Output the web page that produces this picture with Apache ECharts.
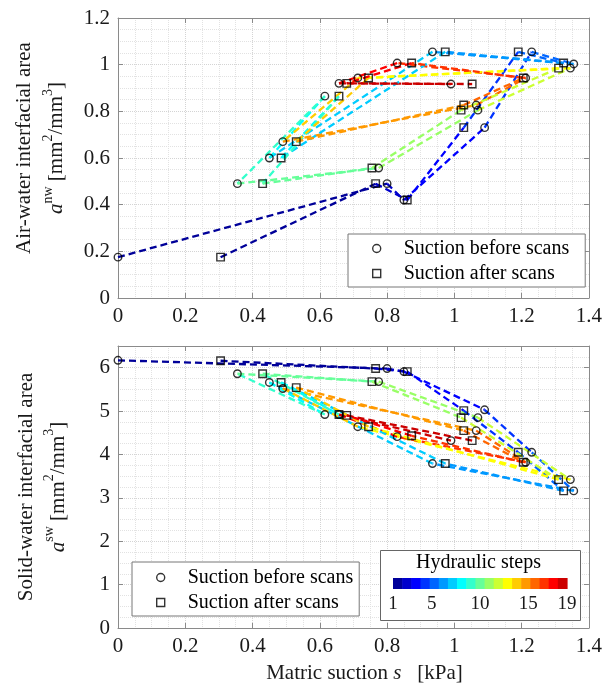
<!DOCTYPE html>
<html lang="en">
<head>
<meta charset="UTF-8">
<script src="https://cdn.jsdelivr.net/npm/echarts@6/dist/echarts.min.js"></script>
<title>Interfacial areas vs matric suction</title>
</head>
<body style="margin:0;background:#fff;">
<div id="main" style="width:605px;height:688px;"></div>
<script>
// matric suction s [kPa]: initial state + one point per hydraulic step
var suctionBefore = [0, 0.80, 0.85, 1.09, 1.23, 1.355, 0.935, 0.45, 0.615, 0.355,
                     0.775, 1.07, 1.345, 0.713, 0.49, 1.065, 1.212, 0.83, 0.657, 0.99];
var suctionAfter  = [0.305, 0.766, 0.86, 1.028, 1.19, 1.325, 0.973, 0.485, 0.657, 0.43,
                     0.755, 1.02, 1.31, 0.745, 0.53, 1.028, 1.205, 0.873, 0.68, 1.053];
// air-water interfacial area a^nw [mm2/mm3]
var awBefore = [0.175, 0.49, 0.42, 0.73, 1.055, 1.003, 1.055, 0.60, 0.865, 0.49,
                0.557, 0.805, 0.985, 0.943, 0.67, 0.827, 0.943, 1.007, 0.92, 0.917];
var awAfter  = [0.175, 0.49, 0.42, 0.73, 1.055, 1.007, 1.055, 0.60, 0.865, 0.49,
                0.557, 0.805, 0.985, 0.943, 0.67, 0.827, 0.943, 1.007, 0.92, 0.917];
// solid-water interfacial area a^sw [mm2/mm3]
var swBefore = [6.17, 5.98, 5.91, 5.03, 4.05, 3.16, 3.79, 5.66, 4.92, 5.86,
                5.68, 4.85, 3.42, 4.64, 5.52, 4.55, 3.82, 4.41, 4.92, 4.32];
var swAfter  = [6.16, 5.98, 5.91, 5.01, 4.05, 3.16, 3.79, 5.66, 4.92, 5.86,
                5.68, 4.85, 3.42, 4.64, 5.54, 4.55, 3.82, 4.43, 4.90, 4.32];
var stepTicks = [1, 5, 10, 15, 19];
var nSteps = 19;

// MATLAB jet(m)
function jet(m) {
    var n = Math.ceil(m / 4);
    var u = [];
    var k;
    for (k = 1; k <= n; k++) u.push(k / n);
    for (k = 1; k < n; k++) u.push(1);
    for (k = n; k >= 1; k--) u.push(k / n);
    var g0 = Math.ceil(n / 2) - (m % 4 === 1 ? 1 : 0);
    var out = [];
    for (var i = 1; i <= m; i++) {
        var comp = function (off) {
            var j = i - g0 - off;
            return (j >= 1 && j <= u.length) ? u[j - 1] : 0;
        };
        var rgb = [comp(n), comp(0), comp(-n)].map(function (v) { return Math.round(v * 255); });
        out.push('rgb(' + rgb.join(',') + ')');
    }
    return out;
}
var colors = jet(nSteps);

var FONT = 'Liberation Serif';
var TXT = '#1a1a1a';
var AX = '#8a8a8a';

function zip(xs, ys) {
    return xs.map(function (x, i) { return [x, ys[i]]; });
}

// one dashed segment per hydraulic step
function segments(xs, ys, axis) {
    var out = [];
    for (var i = 0; i < nSteps; i++) {
        out.push({
            type: 'line', xAxisIndex: axis, yAxisIndex: axis,
            data: [[xs[i], ys[i]], [xs[i + 1], ys[i + 1]]],
            showSymbol: false, silent: true, z: 2,
            lineStyle: { color: colors[i], width: 2.3, type: [7, 4] }
        });
    }
    return out;
}

function markers(name, symbol, xs, ys, axis) {
    return {
        name: name, type: 'scatter', xAxisIndex: axis, yAxisIndex: axis,
        symbol: symbol, symbolSize: 7.5, silent: true, z: 4,
        itemStyle: { color: 'rgba(0,0,0,0)', borderColor: '#000', borderWidth: 1.4 },
        data: zip(xs, ys)
    };
}

function xAx(grid, pos, showLabel, name) {
    return {
        type: 'value', gridIndex: grid, position: pos, min: 0, max: 1.4, interval: 0.2,
        name: name || '', nameLocation: 'middle', nameGap: 35,
        nameTextStyle: {
            fontFamily: FONT, fontSize: 21, color: TXT, padding: [0, 0, 0, 22],
            rich: { i: { fontFamily: FONT, fontSize: 21, fontStyle: 'italic', color: TXT } }
        },
        axisLine: { show: true, onZero: false, lineStyle: { color: AX } },
        axisTick: { show: true, inside: true, length: 5, lineStyle: { color: AX } },
        axisLabel: { show: showLabel, fontFamily: FONT, fontSize: 21, color: TXT, margin: 8 },
        splitLine: { show: showLabel, lineStyle: { color: '#d4d4d4', type: 'dotted' } },
        minorTick: { show: false, splitNumber: 4 },
        minorSplitLine: { show: showLabel, lineStyle: { color: '#e2e2e2', type: 'dotted' } }
    };
}

function yAx(grid, pos, showLabel, max, interval, name, shift) {
    return {
        type: 'value', gridIndex: grid, position: pos, min: 0, max: max, interval: interval,
        name: name || '', nameLocation: 'middle', nameGap: 44, nameRotate: 90,
        nameTextStyle: {
            fontFamily: FONT, fontSize: 21, color: TXT, lineHeight: 32,
            padding: [0, 0, 0, shift || 0],
            rich: {
                i: { fontFamily: FONT, fontSize: 21, fontStyle: 'italic', color: TXT, lineHeight: 32 },
                sup: { fontFamily: FONT, fontSize: 14, color: TXT, verticalAlign: 'top', lineHeight: 15 }
            }
        },
        axisLine: { show: true, onZero: false, lineStyle: { color: AX } },
        axisTick: { show: true, inside: true, length: 5, lineStyle: { color: AX } },
        axisLabel: { show: showLabel, fontFamily: FONT, fontSize: 21, color: TXT, margin: 8, showMaxLabel: max === 1.2 },
        splitLine: { show: showLabel, lineStyle: { color: '#d4d4d4', type: 'dotted' } },
        minorTick: { show: false, splitNumber: 4 },
        minorSplitLine: { show: showLabel, lineStyle: { color: '#e2e2e2', type: 'dotted' } }
    };
}

function legendBox(left, top, padTop, padRight) {
    return {
        left: left, top: top, orient: 'vertical', selectedMode: false,
        backgroundColor: '#fff', borderColor: '#777', borderWidth: 1, borderRadius: 0,
        padding: [padTop, padRight, 3, 24], itemGap: 4, itemWidth: 8, itemHeight: 8,
        textStyle: { fontFamily: FONT, fontSize: 20, color: '#000', lineHeight: 21, padding: [0, 0, 0, 18] },
        data: [
            { name: 'Suction before scans', icon: 'circle', itemStyle: { color: 'rgba(0,0,0,0)', borderColor: '#000', borderWidth: 1.4 } },
            { name: 'Suction after scans', icon: 'rect', itemStyle: { color: 'rgba(0,0,0,0)', borderColor: '#000', borderWidth: 1.4 } }
        ],
        z: 10
    };
}

var chart = echarts.init(document.getElementById('main'), null, { renderer: 'canvas' });

var series = []
    .concat(segments(suctionBefore, awBefore, 0))
    .concat(segments(suctionAfter, awAfter, 0))
    .concat(segments(suctionBefore, swBefore, 2))
    .concat(segments(suctionAfter, swAfter, 2));
series.push(markers('Suction before scans', 'circle', suctionBefore, awBefore, 0));
series.push(markers('Suction after scans', 'rect', suctionAfter, awAfter, 0));
series.push(markers('Suction before scans', 'circle', suctionBefore, swBefore, 2));
series.push(markers('Suction after scans', 'rect', suctionAfter, swAfter, 2));

// colour bar: one block per hydraulic step, spanning steps 1..19
series.push({
    type: 'custom', xAxisIndex: 4, yAxisIndex: 4, silent: true, z: 12,
    data: colors.map(function (c, k) { return [k, 0]; }),
    renderItem: function (params, api) {
        var k = api.value(0);
        var w = (nSteps - 1) / nSteps;
        var p0 = api.coord([1 + k * w, 1]);
        var p1 = api.coord([1 + (k + 1) * w, 0]);
        return {
            type: 'rect',
            shape: { x: p0[0], y: p0[1], width: p1[0] - p0[0] + 0.6, height: p1[1] - p0[1] },
            style: { fill: colors[k] }
        };
    }
});

var option = {
    animation: false,
    backgroundColor: '#fff',
    grid: [
        { left: 118, top: 18, width: 474, height: 280 },
        { left: 118, top: 346, width: 474, height: 282 },
        { left: 393, top: 578, width: 174, height: 11 }
    ],
    xAxis: [
        xAx(0, 'bottom', true),
        xAx(0, 'top', false),
        xAx(1, 'bottom', true, 'Matric suction {i|s}   [kPa]'),
        xAx(1, 'top', false),
        {
            type: 'value', gridIndex: 2, min: 1, max: 19, z: 12,
            axisLine: { show: false }, axisTick: { show: false }, splitLine: { show: false },
            axisLabel: { customValues: stepTicks, fontFamily: FONT, fontSize: 19, color: TXT, margin: 6 }
        }
    ],
    yAxis: [
        yAx(0, 'left', true, 1.2, 0.2, 'Air-water interfacial area\n{i|a}{sup|nw} [mm{sup|2}/mm{sup|3}]', 20),
        yAx(0, 'right', false, 1.2, 0.2),
        yAx(1, 'left', true, 6.5, 1, 'Solid-water interfacial area\n{i|a}{sup|sw} [mm{sup|2}/mm{sup|3}]', 0),
        yAx(1, 'right', false, 6.5, 1),
        { type: 'value', gridIndex: 2, min: 0, max: 1, show: false }
    ],
    legend: [legendBox(348, 234, 4, 16), legendBox(132, 562, 5, 6)],
    graphic: [
        {
            type: 'rect', left: 380, top: 550, z: 10,
            shape: { width: 200, height: 70 },
            style: { fill: '#fff', stroke: '#666', lineWidth: 1 }
        },
        {
            type: 'text', left: 416, top: 553, z: 11,
            style: { text: 'Hydraulic steps', font: '20px "Liberation Serif"', fill: '#000' }
        }
    ],
    series: series
};
chart.setOption(option);
</script>
</body>
</html>
